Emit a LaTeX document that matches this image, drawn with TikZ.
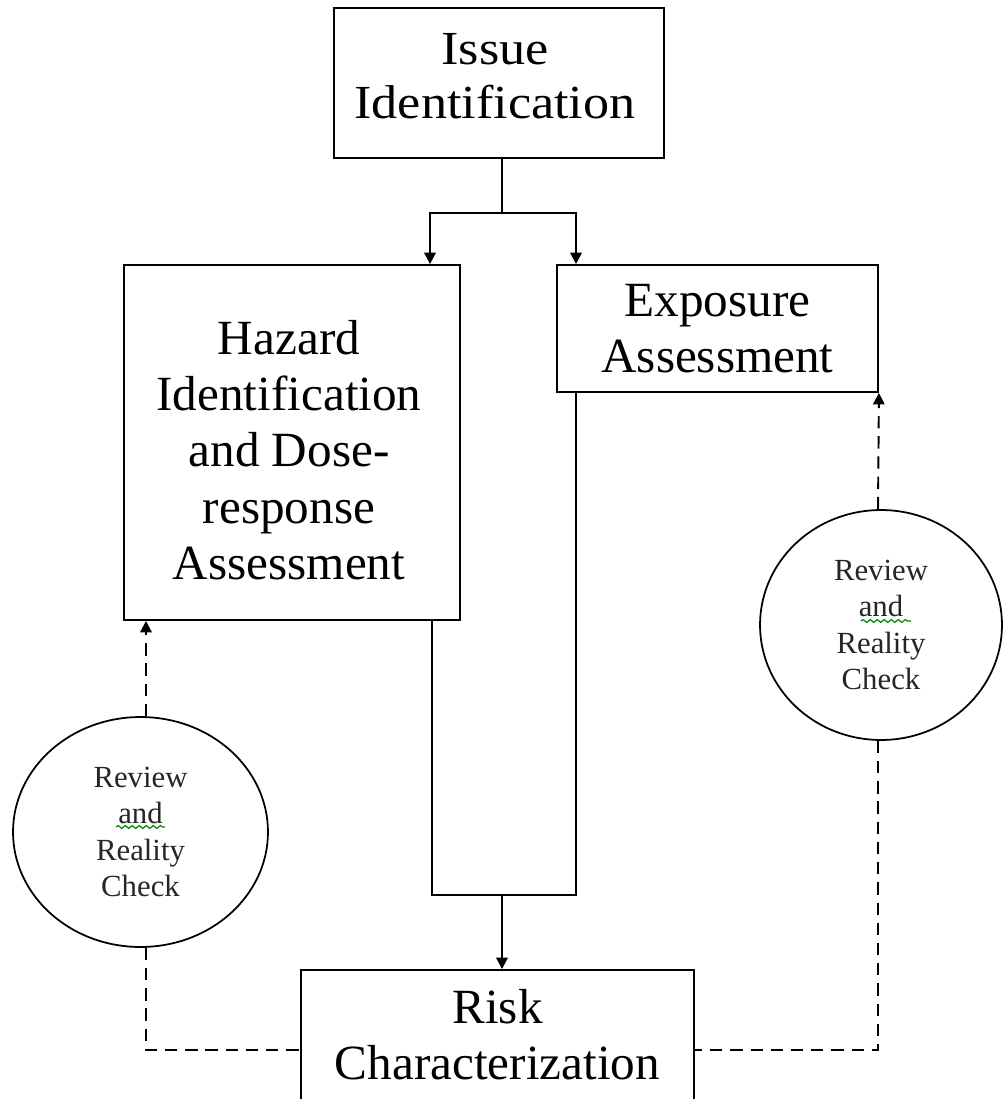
\documentclass[tikz,border=0pt]{standalone}
\usepackage{fontspec}
\setmainfont{Liberation Serif}
\newfontfamily\issuefont[FakeStretch=1.1]{Liberation Serif}
\usetikzlibrary{arrows.meta,shapes.geometric,decorations.pathmorphing}
\begin{document}
\begin{tikzpicture}[x=0.02cm,y=-0.02cm,
  box/.style={draw, line width=1.1pt, align=center, inner sep=0pt, font=\fontsize{28}{32}\selectfont},
  boxtext/.style={align=center, inner sep=0pt, font=\fontsize{28}{32}\selectfont},
  check/.style={draw, ellipse, line width=1pt, align=center, inner sep=0pt, text=black!85, font=\fontsize{17.5}{20.6}\selectfont},
  solidline/.style={line width=1.2pt},
  arr/.style={line width=1.2pt, -{Triangle[length=6.5pt,width=6.5pt]}},
  dashline/.style={line width=1.1pt, dash pattern=on 7pt off 4.5pt},
  dasharr/.style={dashline, -{Triangle[length=6.5pt,width=6.5pt]}},
  squig/.style={green!55!black, line width=0.7pt, decorate, decoration={snake, segment length=4pt, amplitude=0.8pt}}]
\clip (0,0) rectangle (1005,1099);
\fill[white] (0,0) rectangle (1005,1099);

\node[box, minimum width=6.6cm, minimum height=3cm] (issue) at (499,83) {};
\node[boxtext, font=\issuefont\fontsize{27}{31}\selectfont] (issuelbl) at (495,76) {Issue\\Identification};
\node[box, minimum width=6.72cm, minimum height=7.1cm] (hazard) at (292,442.5) {};
\node[boxtext] (hazardlbl) at (289,450) {Hazard\\Identification\\and Dose-\\response\\Assessment};
\node[box, minimum width=6.42cm, minimum height=2.54cm] (expo) at (717.5,328.5) {Exposure\\Assessment};
\node[box, minimum width=7.86cm, minimum height=2.6cm] (risk) at (497.5,1035) {Risk\\Characterization};

\node[check, minimum width=5.1cm, minimum height=4.6cm] (lc) at (140.5,832) {Review\\and\\Reality\\Check};
\node[check, minimum width=4.84cm, minimum height=4.6cm] (rc) at (881,625) {Review\\and\\Reality\\Check};

% spell-check squiggles under "and"
\draw[squig] (116,827) -- (165,827);
\draw[squig] (861,621) -- (911,621);

% top split
\coordinate (jt) at (502,213);
\draw[solidline] (502,0 |- issue.south) -- (jt);
\draw[arr] (jt) -| (430,0 |- hazard.north);
\draw[arr] (jt) -| (576,0 |- expo.north);

% bottom merge
\coordinate (jb) at (502,895);
\draw[solidline] (432,0 |- hazard.south) |- (jb);
\draw[solidline] (576,0 |- expo.south) |- (jb);
\draw[arr] (jb) -- (502,0 |- risk.north);

% review loops
\draw[dasharr] (146,0 |- lc.north) -- (146,0 |- hazard.south);
\draw[dashline] (146,0 |- lc.south) |- (risk.west |- 0,1050);
\draw[dasharr] (878,0 |- rc.north) -- (expo.south east);
\draw[dashline] (878,0 |- rc.south) |- (risk.east |- 0,1050);
\end{tikzpicture}
\end{document}
